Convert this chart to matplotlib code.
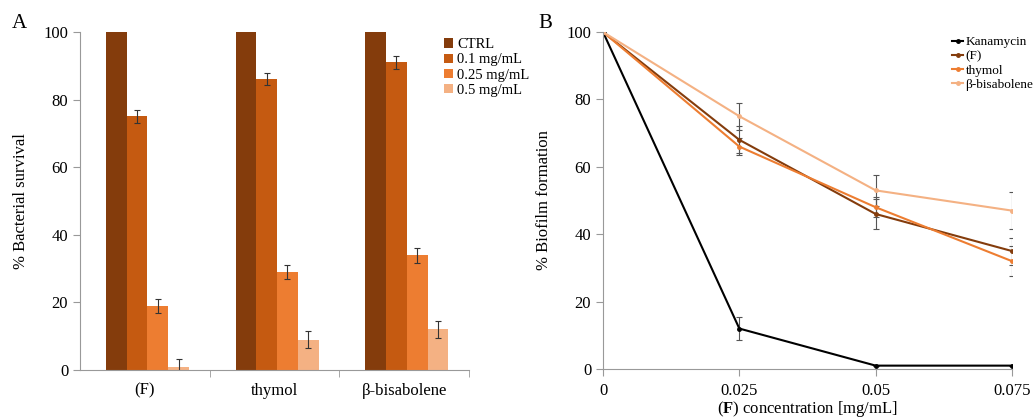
import numpy as np
import matplotlib.pyplot as plt
from matplotlib.lines import Line2D

plt.rcParams['font.family'] = ['Liberation Serif', 'DejaVu Serif']
plt.rcParams['mathtext.fontset'] = 'custom'
plt.rcParams['mathtext.rm'] = 'Liberation Serif'
plt.rcParams['mathtext.bf'] = 'Liberation Serif:bold'

# Panel A data
groups = ['(F)', 'thymol', 'β-bisabolene']
doses = ['CTRL', '0.1 mg/mL', '0.25 mg/mL', '0.5 mg/mL']
survival = [
    [100, 100, 100],
    [75, 86, 91],
    [19, 29, 34],
    [1, 9, 12],
]
survival_err = [
    [0, 0, 0],
    [1.8, 1.8, 2.0],
    [2.0, 2.0, 2.2],
    [2.2, 2.5, 2.5],
]
bar_colors = ['#843C0C', '#C55A11', '#ED7D31', '#F4B183']

# Panel B data
conc = [0, 0.025, 0.05, 0.075]
series = ['Kanamycin', '(F)', 'thymol', 'β-bisabolene']
biofilm = [
    [100, 12, 1, 1],
    [100, 68, 46, 35],
    [100, 66, 48, 32],
    [100, 75, 53, 47],
]
biofilm_err = [
    [0, 3.5, 0, 0],
    [0, 4.0, 4.5, 4.0],
    [0, 2.5, 3.0, 4.5],
    [0, 4.0, 4.5, 5.5],
]
line_colors = ['#000000', '#843C0C', '#ED7D31', '#F4B183']

fig = plt.figure(figsize=(10.34, 4.19), dpi=100)
W, H = 1034, 419

def add_ax(x0, x1, y0, y1):
    return fig.add_axes([x0 / W, 1 - y1 / H, (x1 - x0) / W, (y1 - y0) / H])

spine_col = '#999999'

# ---- Panel A ----
axA = add_ax(80, 469, 32, 370)
x = np.arange(len(groups))
bw = 0.16
offsets = [-0.22, -0.06, 0.10, 0.26]
for i in range(len(doses)):
    axA.bar(x + offsets[i], survival[i], bw, color=bar_colors[i], label=doses[i],
            yerr=survival_err[i] if i > 0 else None,
            error_kw=dict(ecolor='#333333', elinewidth=0.8, capsize=2, capthick=0.8))
axA.set_xlim(-0.5, 2.5)
axA.set_ylim(0, 100)
axA.set_yticks([0, 20, 40, 60, 80, 100])
axA.set_xticks(x)
axA.set_xticklabels(groups, fontsize=12)
axA.set_xticks([0.5, 1.5, 2.5], minor=True)
axA.tick_params(axis='x', which='major', length=0, pad=9)
axA.tick_params(axis='x', which='minor', length=5, color=spine_col)
axA.tick_params(axis='y', labelsize=12, color=spine_col, length=5)
axA.set_ylabel('% Bacterial survival', fontsize=12, labelpad=10)
for s in ['top', 'right']:
    axA.spines[s].set_visible(False)
for s in ['left', 'bottom']:
    axA.spines[s].set_color(spine_col)
axA.legend(loc='upper left', bbox_to_anchor=(434 / W, 1 - 28 / H),
           bbox_transform=fig.transFigure, frameon=False, fontsize=10.5,
           handlelength=0.6, handleheight=0.6, handletextpad=0.3,
           labelspacing=0.15, borderpad=0.2)
fig.text(12 / W, 1 - 28 / H, 'A', fontsize=15)

# ---- Panel B ----
axB = add_ax(603, 1012, 32, 369)
for i in range(len(series)):
    axB.errorbar(conc, biofilm[i], yerr=biofilm_err[i], color=line_colors[i],
                 marker='o', markersize=2.5, linewidth=1.5,
                 ecolor='#555555', elinewidth=0.8, capsize=2, capthick=0.8)
axB.set_xlim(0, 0.075)
axB.set_ylim(0, 100)
axB.set_xticks(conc)
axB.set_xticklabels(['0', '0.025', '0.05', '0.075'])
axB.set_yticks([0, 20, 40, 60, 80, 100])
axB.tick_params(axis='both', labelsize=12, color=spine_col, length=5)
axB.tick_params(axis='x', pad=5)
axB.set_ylabel('% Biofilm formation', fontsize=12, labelpad=10)
axB.set_xlabel(r'($\mathbf{F}$) concentration [mg/mL]', fontsize=12, labelpad=0)
for s in ['top', 'right']:
    axB.spines[s].set_visible(False)
for s in ['left', 'bottom']:
    axB.spines[s].set_color(spine_col)
handles = [Line2D([], [], color=c, marker='o', markersize=2.5, linewidth=1.5)
           for c in line_colors]
axB.legend(handles, series, loc='upper left', bbox_to_anchor=(943 / W, 1 - 27 / H),
           bbox_transform=fig.transFigure, frameon=False, fontsize=9.5,
           handlelength=0.8, handletextpad=0.2, labelspacing=0.15, borderpad=0.2)
fig.text(538 / W, 1 - 28 / H, 'B', fontsize=15)

fig.savefig('out.png', dpi=100)
